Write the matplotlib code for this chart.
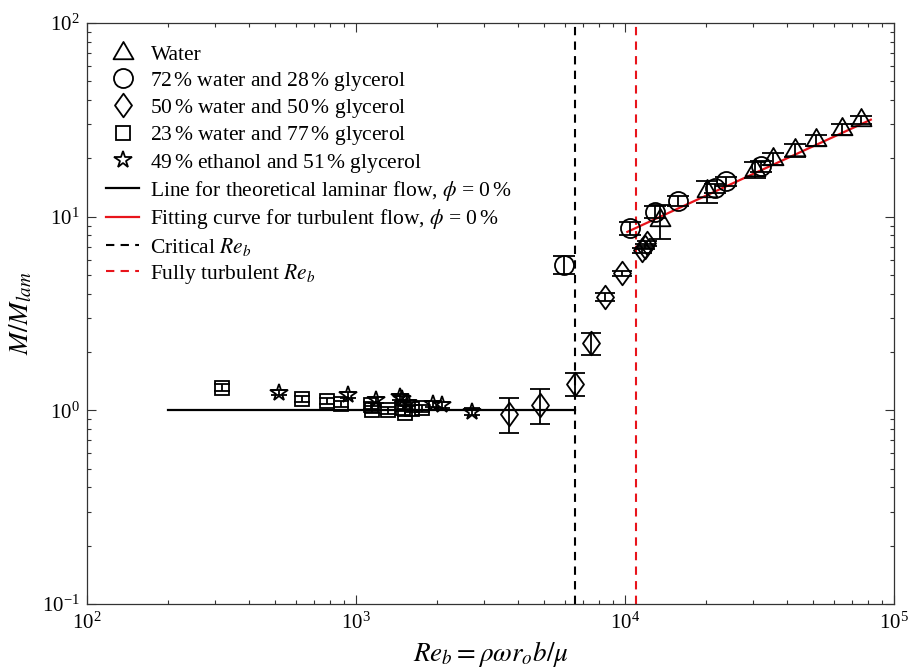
import numpy as np
import matplotlib
matplotlib.use('Agg')
import matplotlib.pyplot as plt
from matplotlib.lines import Line2D
from matplotlib.path import Path

plt.rcParams['font.family'] = 'serif'
plt.rcParams['font.serif'] = ['Liberation Serif', 'DejaVu Serif']
plt.rcParams['mathtext.fontset'] = 'stix'

# Water
re_water = [13490, 20140, 30400, 35550, 42850, 51300, 63900, 75300]
m_water = [9.6, 13.5, 17.5, 19.8, 22.1, 24.9, 28.2, 31.6]
err_water = [1.9, 1.8, 1.7, 1.4, 1.75, 1.65, 1.8, 1.4]

# 72 % water, 28 % glycerol
re_g28 = [5940, 10440, 12930, 15780, 21600, 23740, 31900]
m_g28 = [5.64, 8.7, 10.6, 12.05, 14.0, 15.2, 18.3]
err_g28 = [0.6, 0.7, 0.75, 0.7, 0.8, 0.8, 1.2]

# 50 % water, 50 % glycerol
re_g50 = [3715, 4830, 6520, 7480, 8440, 9730, 11530, 11870, 12040]
m_g50 = [0.96, 1.07, 1.37, 2.22, 3.86, 5.1, 6.73, 7.0, 7.29]
err_g50 = [0.2, 0.22, 0.18, 0.3, 0.2, 0.15, 0.2, 0.2, 0.2]

# 23 % water, 77 % glycerol
re_g77 = [317, 630, 778, 877, 1140, 1150, 1319, 1500, 1520, 1610, 1753]
m_g77 = [1.31, 1.14, 1.118, 1.075, 1.06, 1.01, 1.0, 1.03, 0.973, 1.02, 1.025]
err_g77 = [0.05, 0.04, 0.04, 0.04, 0.04, 0.04, 0.04, 0.04, 0.04, 0.04, 0.04]

# 49 % ethanol, 51 % glycerol
re_eth = [519, 935, 1186, 1456, 1479, 1566, 1937, 2082, 2694]
m_eth = [1.234, 1.20, 1.13, 1.177, 1.14, 1.09, 1.08, 1.07, 0.985]
err_eth = [0.04, 0.04, 0.04, 0.04, 0.04, 0.04, 0.04, 0.04, 0.04]

# laminar reference, transition markers and turbulent power-law fit
re_laminar = [200, 6500]
re_critical = 6500
re_turbulent = 11000
fit_a, fit_b = 0.0227, 0.64
re_fit = np.logspace(np.log10(10200), np.log10(82000), 50)


def closed(verts):
    codes = [Path.MOVETO] + [Path.LINETO] * (len(verts) - 1) + [Path.CLOSEPOLY]
    return Path(verts + [verts[0]], codes)


tri = closed([(0, 1.155), (-1, -0.577), (1, -0.577)])
dia = closed([(0, 1), (0.72, 0), (0, -1), (-0.72, 0)])
red = '#e8141b'

fig = plt.figure(figsize=(9.08, 6.71), dpi=100)
ax = fig.add_axes([0.0958, 0.0998, 0.8888, 0.8659])

ax.plot(re_laminar, [1, 1], color='black', lw=1.6, zorder=2)
ax.axvline(re_critical, color='black', ls=(0, (4, 3)), lw=1.5, zorder=2)
ax.axvline(re_turbulent, color=red, ls=(0, (4, 3)), lw=1.5, zorder=2)
ax.plot(re_fit, fit_a * re_fit ** fit_b, color=red, lw=1.6, zorder=2)

series = [
    (re_water, m_water, err_water, tri, 16.6, 8),
    (re_g28, m_g28, err_g28, 'o', 13.7, 8),
    (re_g50, m_g50, err_g50, dia, 17, 7.5),
    (re_g77, m_g77, err_g77, 's', 10, 5.5),
    (re_eth, m_eth, err_eth, '*', 13, 6),
]
for x, y, e, mk, ms, cs in series:
    ax.errorbar(x, y, yerr=e, ls='none', marker=mk, ms=ms, mfc='none',
                mec='black', mew=1.3, ecolor='black', elinewidth=1.3,
                capsize=cs, capthick=1.3, zorder=3)

ax.set_xscale('log')
ax.set_yscale('log')
ax.set_xlim(1e2, 1e5)
ax.set_ylim(1e-1, 1e2)
ax.tick_params(which='both', direction='in', top=True, right=True,
               labelsize=15, color='#333333', width=0.8)
ax.tick_params(which='major', length=6.5)
ax.tick_params(which='minor', length=3.2)
ax.tick_params(axis='x', pad=6)
ax.tick_params(axis='y', pad=5)
for s in ax.spines.values():
    s.set_color('#333333')
    s.set_linewidth(0.9)

ax.set_xlabel(r'$Re_b = \rho\omega r_o b/\mu$', fontsize=19.5, labelpad=4)
ax.set_ylabel(r'$M/M_{lam}$', fontsize=19.5)
ax.yaxis.set_label_coords(-0.065, 0.5)

handles = [
    Line2D([], [], ls='none', marker=tri, ms=16.6, mfc='none', mec='black', mew=1.3),
    Line2D([], [], ls='none', marker='o', ms=13.7, mfc='none', mec='black', mew=1.3),
    Line2D([], [], ls='none', marker=dia, ms=17, mfc='none', mec='black', mew=1.3),
    Line2D([], [], ls='none', marker='s', ms=10, mfc='none', mec='black', mew=1.3),
    Line2D([], [], ls='none', marker='*', ms=13, mfc='none', mec='black', mew=1.3),
    Line2D([], [], color='black', lw=1.6),
    Line2D([], [], color=red, lw=1.6),
    Line2D([], [], color='black', lw=1.5, ls=(0, (4, 3))),
    Line2D([], [], color=red, lw=1.5, ls=(0, (4, 3))),
]
labels = [
    'Water',
    r'72$\,$% water and 28$\,$% glycerol',
    r'50$\,$% water and 50$\,$% glycerol',
    r'23$\,$% water and 77$\,$% glycerol',
    r'49$\,$% ethanol and 51$\,$% glycerol',
    r'Line for theoretical laminar flow, $\phi$ = 0$\,$%',
    r'Fitting curve for turbulent flow, $\phi$ = 0$\,$%',
    r'Critical $Re_b$',
    r'Fully turbulent $Re_b$',
]
ax.legend(handles, labels, loc='upper left', bbox_to_anchor=(0.0, 0.995),
          frameon=False, fontsize=15.5, handlelength=1.5, handletextpad=0.55,
          labelspacing=0.2, borderaxespad=0.5)

fig.savefig('out.png', dpi=100)
